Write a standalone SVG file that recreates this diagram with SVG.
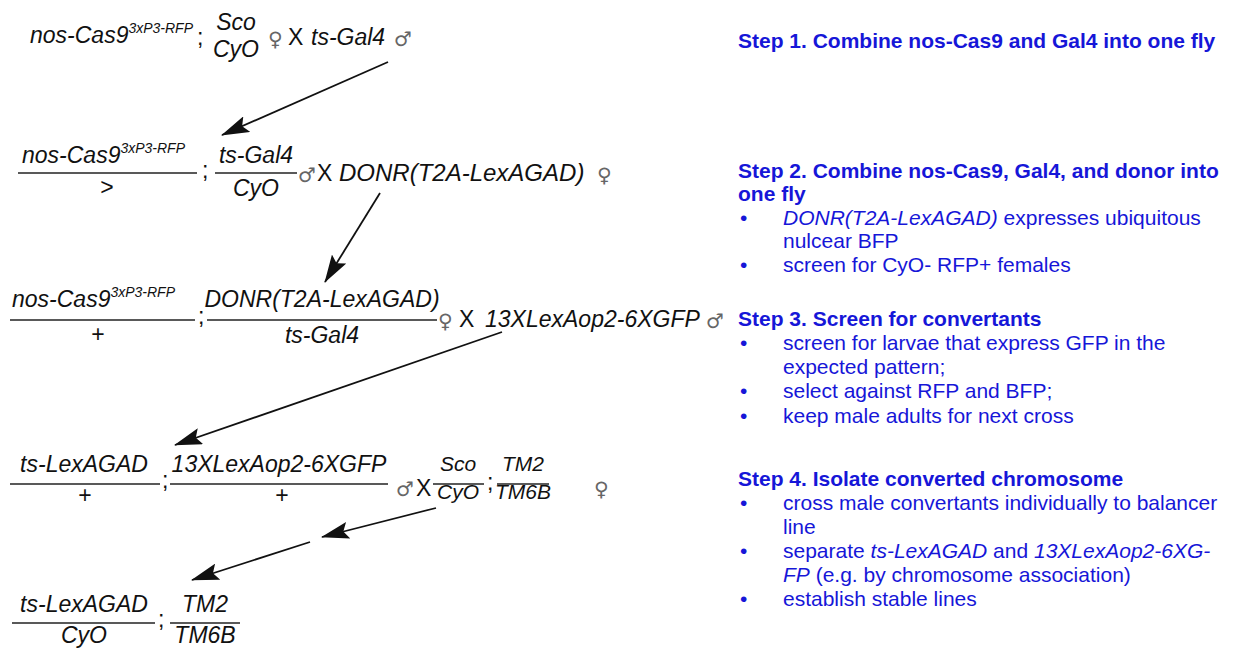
<svg xmlns="http://www.w3.org/2000/svg" width="1234" height="650" viewBox="0 0 1234 650">
<defs>
<marker id="ah" markerUnits="userSpaceOnUse" markerWidth="28" markerHeight="17" refX="27" refY="8.5" orient="auto">
<path d="M0,0 L28,8.5 L0,17 L5,8.5 z" fill="#111"/>
</marker>
<style>
.g{font-family:"Liberation Sans",Arial,sans-serif;font-style:italic;font-size:23px;fill:#111}
.n{font-family:"Liberation Sans",Arial,sans-serif;font-size:23px;fill:#111}
.sup{font-size:14px}
.m{text-anchor:middle}
.s21{font-size:21px}
.sym{font-family:"DejaVu Sans",sans-serif;font-size:20px;fill:#666}
.bar{stroke:#222;stroke-width:1.6}
.arr{stroke:#111;stroke-width:1.8;fill:none;marker-end:url(#ah)}
.st{font-family:"Liberation Sans",Arial,sans-serif;font-weight:bold;font-size:21px;fill:#1616d8}
.bd{font-family:"Liberation Sans",Arial,sans-serif;font-size:21px;fill:#1616d8}
.it{font-style:italic}
</style>
</defs>
<rect width="1234" height="650" fill="#fff"/>

<g id="cross1">
<text class="g" x="30" y="43">nos-Cas9<tspan class="sup" dy="-10">3xP3-RFP</tspan></text>
<text class="n" x="197" y="45">;</text>
<text class="g m" x="236" y="30">Sco</text>
<text class="g m" x="236" y="57">CyO</text>
<text class="sym" x="268" y="46">♀</text>
<text class="n" x="288" y="45">X</text>
<text class="g" x="311" y="45">ts-Gal4</text>
<text class="sym" x="394" y="46">♂</text>
</g>

<g id="cross2">
<text class="g" x="22" y="163">nos-Cas9<tspan class="sup" dy="-10">3xP3-RFP</tspan></text>
<line class="bar" x1="18" y1="173" x2="197" y2="173"/>
<text class="n m" x="107" y="195">&gt;</text>
<text class="n" x="202" y="178">;</text>
<text class="g m" x="256" y="163">ts-Gal4</text>
<line class="bar" x1="215" y1="173" x2="297" y2="173"/>
<text class="g m" x="256" y="196">CyO</text>
<text class="sym" x="298" y="182">♂</text>
<text class="n" x="317" y="181">X</text>
<text class="g" x="339" y="181" style="font-size:24px">DONR(T2A-LexAGAD)</text>
<text class="sym" x="597" y="182">♀</text>
</g>

<g id="cross3">
<text class="g" x="12" y="307">nos-Cas9<tspan class="sup" dy="-10">3xP3-RFP</tspan></text>
<line class="bar" x1="10" y1="320" x2="195" y2="320"/>
<text class="n m" x="98" y="342">+</text>
<text class="n" x="198" y="324">;</text>
<text class="g m" x="322" y="307">DONR(T2A-LexAGAD)</text>
<line class="bar" x1="207" y1="320" x2="437" y2="320"/>
<text class="g m" x="322" y="343">ts-Gal4</text>
<text class="sym" x="438" y="328">♀</text>
<text class="n" x="459" y="327">X</text>
<text class="g" x="485" y="327">13XLexAop2-6XGFP</text>
<text class="sym" x="706" y="328">♂</text>
</g>

<g id="cross4">
<text class="g m" x="84" y="472">ts-LexAGAD</text>
<line class="bar" x1="10" y1="484" x2="160" y2="484"/>
<text class="n m" x="85" y="503">+</text>
<text class="n" x="162" y="488">;</text>
<text class="g m" x="279" y="472">13XLexAop2-6XGFP</text>
<line class="bar" x1="170" y1="484" x2="388" y2="484"/>
<text class="n m" x="282" y="503">+</text>
<text class="sym" x="396" y="496">♂</text>
<text class="n" x="416" y="496">X</text>
<text class="g m s21" x="458" y="471">Sco</text>
<line class="bar" x1="433" y1="484" x2="484" y2="484"/>
<text class="g m s21" x="458" y="499">CyO</text>
<text class="n" x="487" y="490">;</text>
<text class="g m s21" x="523" y="471">TM2</text>
<line class="bar" x1="497" y1="484" x2="549" y2="484"/>
<text class="g m s21" x="523" y="499">TM6B</text>
<text class="sym" x="594" y="496">♀</text>
</g>

<g id="result">
<text class="g m" x="84" y="612">ts-LexAGAD</text>
<line class="bar" x1="12" y1="623" x2="155" y2="623"/>
<text class="g m" x="84" y="643">CyO</text>
<text class="n" x="158" y="627">;</text>
<text class="g m" x="205" y="612">TM2</text>
<line class="bar" x1="170" y1="623" x2="240" y2="623"/>
<text class="g m" x="205" y="643">TM6B</text>
</g>

<g id="connectors">
<line class="arr" x1="388" y1="62" x2="222" y2="135"/>
<line class="arr" x1="380" y1="193" x2="325" y2="282"/>
<line class="arr" x1="502" y1="332" x2="175" y2="445"/>
<line class="arr" x1="436" y1="508" x2="322" y2="537"/>
<line class="arr" x1="310" y1="542" x2="192" y2="580"/>
</g>

<g id="step1">
<text class="st" x="738" y="48">Step 1. Combine nos-Cas9 and Gal4 into one fly</text>
</g>

<g id="step2">
<text class="st" x="738" y="178">Step 2. Combine nos-Cas9, Gal4, and donor into</text>
<text class="st" x="738" y="201">one fly</text>
<text class="bd" x="740" y="225">•</text>
<text class="bd" x="783" y="225"><tspan class="it">DONR(T2A-LexAGAD)</tspan> expresses ubiquitous</text>
<text class="bd" x="783" y="248">nulcear BFP</text>
<text class="bd" x="740" y="272">•</text>
<text class="bd" x="783" y="272">screen for CyO- RFP+ females</text>
</g>

<g id="step3">
<text class="st" x="738" y="326">Step 3. Screen for convertants</text>
<text class="bd" x="740" y="350">•</text>
<text class="bd" x="783" y="350">screen for larvae that express GFP in the</text>
<text class="bd" x="783" y="374">expected pattern;</text>
<text class="bd" x="740" y="398">•</text>
<text class="bd" x="783" y="398">select against RFP and BFP;</text>
<text class="bd" x="740" y="423">•</text>
<text class="bd" x="783" y="423">keep male adults for next cross</text>
</g>

<g id="step4">
<text class="st" x="738" y="486">Step 4. Isolate converted chromosome</text>
<text class="bd" x="740" y="510">•</text>
<text class="bd" x="783" y="510">cross male convertants individually to balancer</text>
<text class="bd" x="783" y="534">line</text>
<text class="bd" x="740" y="558">•</text>
<text class="bd" x="783" y="558">separate <tspan class="it">ts-LexAGAD</tspan> and <tspan class="it">13XLexAop2-6XG-</tspan></text>
<text class="bd" x="783" y="582"><tspan class="it">FP</tspan> (e.g. by chromosome association)</text>
<text class="bd" x="740" y="606">•</text>
<text class="bd" x="783" y="606">establish stable lines</text>
</g>
</svg>
